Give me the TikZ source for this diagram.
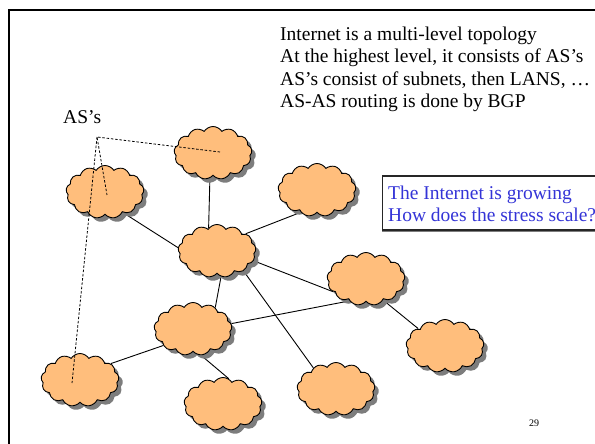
\documentclass[tikz,border=0pt]{standalone}
\usepackage{fontspec}
\setmainfont{Liberation Serif}
\usetikzlibrary{shapes.symbols,shadows,calc,backgrounds}
\definecolor{cloudfill}{RGB}{255,190,124}
\definecolor{shadowgray}{RGB}{125,125,125}
\definecolor{bluetext}{RGB}{52,52,215}
\tikzset{
  ascloud/.style={cloud, cloud puffs=13, cloud puff arc=115, cloud ignores aspect,
    minimum width=78bp, minimum height=53bp, draw=black, line width=0.9bp,
    fill=cloudfill, inner sep=0pt,
    drop shadow={shadow xshift=4bp, shadow yshift=-4bp, fill=shadowgray, opacity=1}},
  link/.style={draw=black, line width=0.9bp},
  dashlink/.style={draw=black, line width=0.8bp, dash pattern=on 2.5bp off 1.8bp},
  bigtext/.style={font=\fontsize{19.5bp}{22bp}\selectfont, inner sep=0pt, anchor=base west},
  bluebox/.style={draw=black!85, line width=1.1bp, fill=white, anchor=north west,
    minimum width=240bp, minimum height=54bp, inner sep=0pt,
    drop shadow={shadow xshift=0bp, shadow yshift=-2bp, fill=shadowgray, opacity=1}}
}
\begin{document}
\begin{tikzpicture}[x=1bp,y=-1bp]
\useasboundingbox (0,0) rectangle (595,444);
\clip (0,0) rectangle (595,444);
\draw[line width=2.3bp] (8.7,10.3) rectangle (700,600);

% text
\node[bigtext] (t1) at (280,40.7) {Internet is a multi-level topology};
\node[bigtext] (t2) at (280,62.9) {At the highest level, it consists of AS’s};
\node[bigtext] (t3) at (280,85.3) {AS’s consist of subnets, then LANS, …};
\node[bigtext] (t4) at (280,107.5) {AS-AS routing is done by BGP};
\node[bigtext] (as) at (63,124) {AS’s};

\node[bluebox] (box) at (381.7,175.5) {};
\node[bigtext, text=bluetext] (b1) at (388,200) {The Internet is growing};
\node[bigtext, text=bluetext] (b2) at (388,221.7) {How does the stress scale?};

\node[font=\fontsize{10bp}{12bp}\selectfont, inner sep=0pt] (pg) at (534,423) {29};

% clouds
\node[ascloud] (top) at (213,153) {};
\node[ascloud] (lu) at (105,192) {};
\node[ascloud] (ru) at (317,190) {};
\node[ascloud] (c) at (217,251) {};
\node[ascloud] (rm) at (366,279) {};
\node[ascloud] (ml) at (193,329) {};
\node[ascloud] (fr) at (445,346) {};
\node[ascloud] (bl) at (80,380) {};
\node[ascloud] (bm) at (223,404) {};
\node[ascloud] (br) at (336,389) {};

\begin{scope}[on background layer]
\draw[link] (top.-97) -- (c.110);
\draw[link] (lu.-49) -- (c.175);
\draw[link] (ru.-126) -- (c.31);
\draw[link] (c.-15) -- (rm.201);
\draw[link] (c.-81) -- (ml.44);
\draw[link] (c.-37) -- (br.137);
\draw[link] (ml.8) -- (rm.-127);
\draw[link] (rm.-51) -- (fr.147);
\draw[link] (ml.-151) -- (bl.28);
\draw[link] (ml.-73) -- (bm.77);
\end{scope}

% dashed pointers
\coordinate (asp) at (97,137);
\coordinate (d1) at ($(top)+(7,-1)$);
\coordinate (d2) at ($(lu)+(2,3)$);
\coordinate (d3) at ($(bl)+(-8,3)$);
\draw[dashlink] (d1) -- (asp) -- (d2);
\draw[dashlink] (asp) -- (d3);
\end{tikzpicture}
\end{document}
